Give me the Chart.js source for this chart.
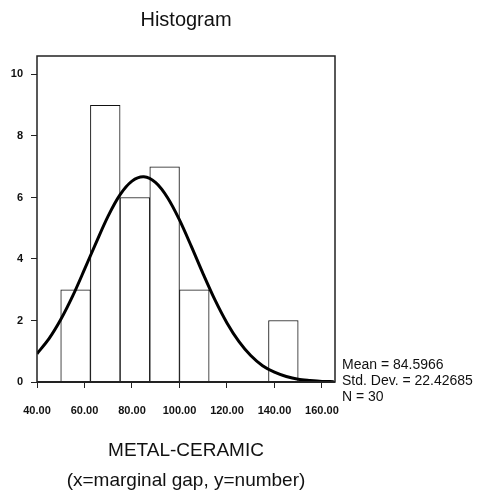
<!DOCTYPE html>
<html>
<head>
<meta charset="utf-8">
<title>Histogram</title>
<script src="https://cdn.jsdelivr.net/npm/chart.js@4.4.0/dist/chart.umd.min.js"></script>
<style>
    body { margin: 0; background: #fff; }
    canvas { display: block; }
</style>
</head>
<body>
<canvas id="histChart" width="478" height="496"></canvas>
<script>
// 区間の中心と度数 (幅 12.5)
const binCenters = [56.25, 68.75, 81.25, 93.75, 106.25, 118.75, 131.25, 143.75];
const binCounts = [3, 9, 6, 7, 3, 0, 0, 2];

// 正規曲線
const curveX = [40, 45, 50, 55, 60, 65, 70, 75, 80, 85, 90, 95, 100, 105, 110, 115, 120, 125, 130, 135, 140, 145, 150, 155, 160, 165];
const curveY = [0.92, 1.40, 2.03, 2.79, 3.66, 4.55, 5.40, 6.09, 6.53, 6.67, 6.48, 5.99, 5.27, 4.41, 3.51, 2.66, 1.92, 1.32, 0.86, 0.53, 0.32, 0.18, 0.09, 0.05, 0.02, 0.01];

const statLines = ['Mean = 84.5966', 'Std. Dev. = 22.42685', 'N = 30'];
const titleText = 'Histogram';
const captionLines = ['METAL-CERAMIC', '(x=marginal gap, y=number)'];

const FONT = '"Liberation Sans", Arial, Helvetica, sans-serif';

// 枠線と統計値
const framePlugin = {
    id: 'frame',
    afterDatasetsDraw(chart) {
        const { ctx, chartArea: a } = chart;
        ctx.save();
        ctx.strokeStyle = '#222';
        ctx.lineWidth = 1.5;
        ctx.strokeRect(a.left, a.top, a.right - a.left, a.bottom - a.top);
        ctx.lineWidth = 2;
        ctx.beginPath();
        ctx.moveTo(a.left, a.bottom);
        ctx.lineTo(a.right, a.bottom);
        ctx.stroke();
        ctx.restore();
    },
    afterDraw(chart) {
        const { ctx, chartArea: a } = chart;
        ctx.save();
        ctx.fillStyle = '#111';
        ctx.font = '14px ' + FONT;
        ctx.textAlign = 'left';
        ctx.textBaseline = 'middle';
        statLines.forEach((t, i) => ctx.fillText(t, a.right + 7, 365 + i * 16));
        ctx.restore();
    }
};

const ctx = document.getElementById('histChart').getContext('2d');
new Chart(ctx, {
    data: {
        datasets: [
            {
                type: 'line',
                data: curveX.map((x, i) => ({ x: x, y: curveY[i] })),
                borderColor: '#000',
                borderWidth: 3,
                pointRadius: 0,
                tension: 0.3,
                fill: false,
                order: 0
            },
            {
                type: 'bar',
                data: binCenters.map((x, i) => ({ x: x, y: binCounts[i] })),
                backgroundColor: '#fff',
                borderColor: '#111',
                borderWidth: 1,
                barPercentage: 1,
                categoryPercentage: 1,
                order: 1
            }
        ]
    },
    options: {
        responsive: false,
        animation: false,
        layout: { padding: { left: 0, right: 143, top: 0, bottom: 0 } },
        plugins: {
            legend: { display: false },
            tooltip: { enabled: false },
            title: {
                display: true,
                text: titleText,
                fullSize: false,
                color: '#111',
                font: { family: FONT, size: 20, weight: 'normal' },
                padding: { top: 8, bottom: 24 }
            }
        },
        scales: {
            x: {
                type: 'linear',
                offset: false,
                min: 40,
                max: 165.5,
                afterFit: s => { s.height = 114; },
                ticks: {
                    stepSize: 20,
                    includeBounds: false,
                    autoSkip: false,
                    color: '#111',
                    padding: 16,
                    maxRotation: 0,
                    font: { family: FONT, size: 11, weight: 'bold' },
                    callback: v => Number(v).toFixed(2)
                },
                grid: { offset: false, drawOnChartArea: false, drawTicks: true, tickLength: 6, color: '#222' },
                border: { display: false },
                title: {
                    display: true,
                    text: captionLines,
                    color: '#111',
                    font: { family: FONT, size: 19, weight: 'normal', lineHeight: 1.58 },
                    padding: { top: 0, bottom: 0 }
                }
            },
            y: {
                min: 0,
                max: 10.6,
                afterFit: s => { s.width = 37; },
                ticks: {
                    stepSize: 2,
                    includeBounds: false,
                    color: '#111',
                    padding: 8,
                    font: { family: FONT, size: 11, weight: 'bold' }
                },
                grid: { drawOnChartArea: false, drawTicks: true, tickLength: 6, color: '#222' },
                border: { display: false }
            }
        }
    },
    plugins: [framePlugin]
});
</script>
</body>
</html>
